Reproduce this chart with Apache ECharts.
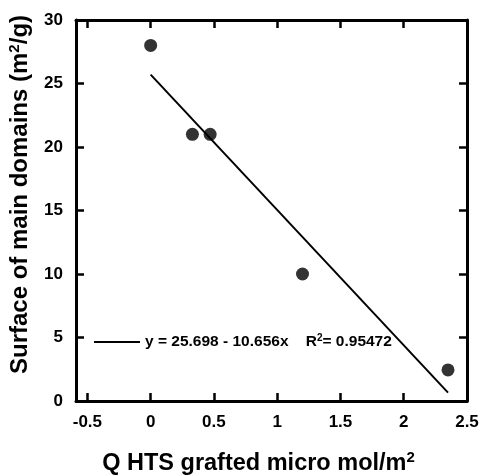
<!DOCTYPE html>
<html>
<head>
<meta charset="utf-8">
<script src="https://cdn.jsdelivr.net/npm/echarts@6/dist/echarts.min.js"></script>
<style>
  html, body { margin: 0; padding: 0; background: #fff; }
  #main { width: 479px; height: 475px; }
</style>
</head>
<body>
<div id="main"></div>
<script>
// measured points
var xData = [0, 0.33, 0.47, 1.2, 2.35];
var yData = [28, 21, 21, 10, 2.45];
// fitted line ends
var fitLine = [[0, 25.7], [2.35, 0.66]];
var fitName = 'y = 25.698 - 10.656x   R2= 0.95472';
var xTicks = [-0.5, 0, 0.5, 1, 1.5, 2, 2.5];
var xTopTicks = [-0.5, 0, 0.5, 1, 1.5, 2];

var font = "'Liberation Sans', Arial, sans-serif";

var points = [];
for (var i = 0; i < xData.length; i++) {
  points.push([xData[i], yData[i]]);
}

var chart = echarts.init(document.getElementById('main'), null, { renderer: 'canvas' });

var frameLine = { show: true, onZero: false, lineStyle: { color: '#000', width: 3 } };
var tickStyle = { color: '#000', width: 2.5 };

chart.setOption({
  animation: false,
  backgroundColor: '#fff',
  textStyle: { fontFamily: font },
  grid: { left: 76, right: 12, top: 20, bottom: 74, outerBoundsMode: 'none' },
  legend: {
    left: 89,
    top: 328,
    data: [fitName],
    icon: 'path://M0,0 L48,0 L48,2 L0,2 Z',
    itemWidth: 46,
    itemHeight: 2,
    formatter: function () {
      return '{t|y = 25.698 - 10.656x    R}{s|2}{t|= 0.95472}';
    },
    textStyle: {
      rich: {
        t: { fontSize: 15.5, fontWeight: 'bold', color: '#000', fontFamily: font },
        s: { fontSize: 10, fontWeight: 'bold', color: '#000', fontFamily: font, padding: [0, 0, 8, 0] }
      }
    }
  },
  xAxis: [
    {
      type: 'value',
      position: 'bottom',
      min: -0.59,
      max: 2.5,
      axisLine: frameLine,
      axisTick: { inside: true, length: 8, lineStyle: tickStyle, customValues: xTicks },
      axisLabel: {
        customValues: xTicks,
        color: '#000',
        fontSize: 17,
        fontWeight: 'bold',
        margin: 13,
        formatter: function (v) { return String(v); }
      },
      splitLine: { show: false },
      name: '{t|Q HTS grafted micro mol/m}{s|2}',
      nameLocation: 'middle',
      nameGap: 49,
      nameTextStyle: {
        padding: [0, 26, 0, 0],
        rich: {
          t: { fontSize: 23.5, fontWeight: 'bold', color: '#000', fontFamily: font },
          s: { fontSize: 15, fontWeight: 'bold', color: '#000', fontFamily: font, padding: [0, 0, 12, 0] }
        }
      }
    },
    {
      type: 'value',
      position: 'top',
      min: -0.59,
      max: 2.5,
      axisLine: frameLine,
      axisTick: { inside: true, length: 8, lineStyle: tickStyle, customValues: xTopTicks },
      axisLabel: { show: false },
      splitLine: { show: false }
    }
  ],
  yAxis: [
    {
      type: 'value',
      position: 'left',
      min: 0,
      max: 30,
      interval: 5,
      axisLine: frameLine,
      axisTick: { inside: true, length: 8, lineStyle: tickStyle },
      axisLabel: { color: '#000', fontSize: 17, fontWeight: 'bold', margin: 13 },
      splitLine: { show: false },
      name: '{t|Surface of main domains (m}{s|2}{t|/g)}',
      nameLocation: 'middle',
      nameGap: 42,
      nameTextStyle: {
        padding: [0, 0, 0, 32],
        rich: {
          t: { fontSize: 24, fontWeight: 'bold', color: '#000', fontFamily: font },
          s: { fontSize: 15, fontWeight: 'bold', color: '#000', fontFamily: font, padding: [0, 0, 12, 0] }
        }
      }
    },
    {
      type: 'value',
      position: 'right',
      min: 0,
      max: 30,
      interval: 5,
      axisLine: frameLine,
      axisTick: { inside: true, length: 8, lineStyle: tickStyle },
      axisLabel: { show: false },
      splitLine: { show: false }
    }
  ],
  series: [
    {
      name: 'points',
      type: 'scatter',
      data: points,
      symbol: 'circle',
      symbolSize: 13,
      itemStyle: { color: '#000' }
    },
    {
      name: fitName,
      type: 'line',
      data: fitLine,
      showSymbol: false,
      lineStyle: { color: '#000', width: 2 },
      itemStyle: { color: '#000' }
    }
  ]
});
</script>
</body>
</html>
